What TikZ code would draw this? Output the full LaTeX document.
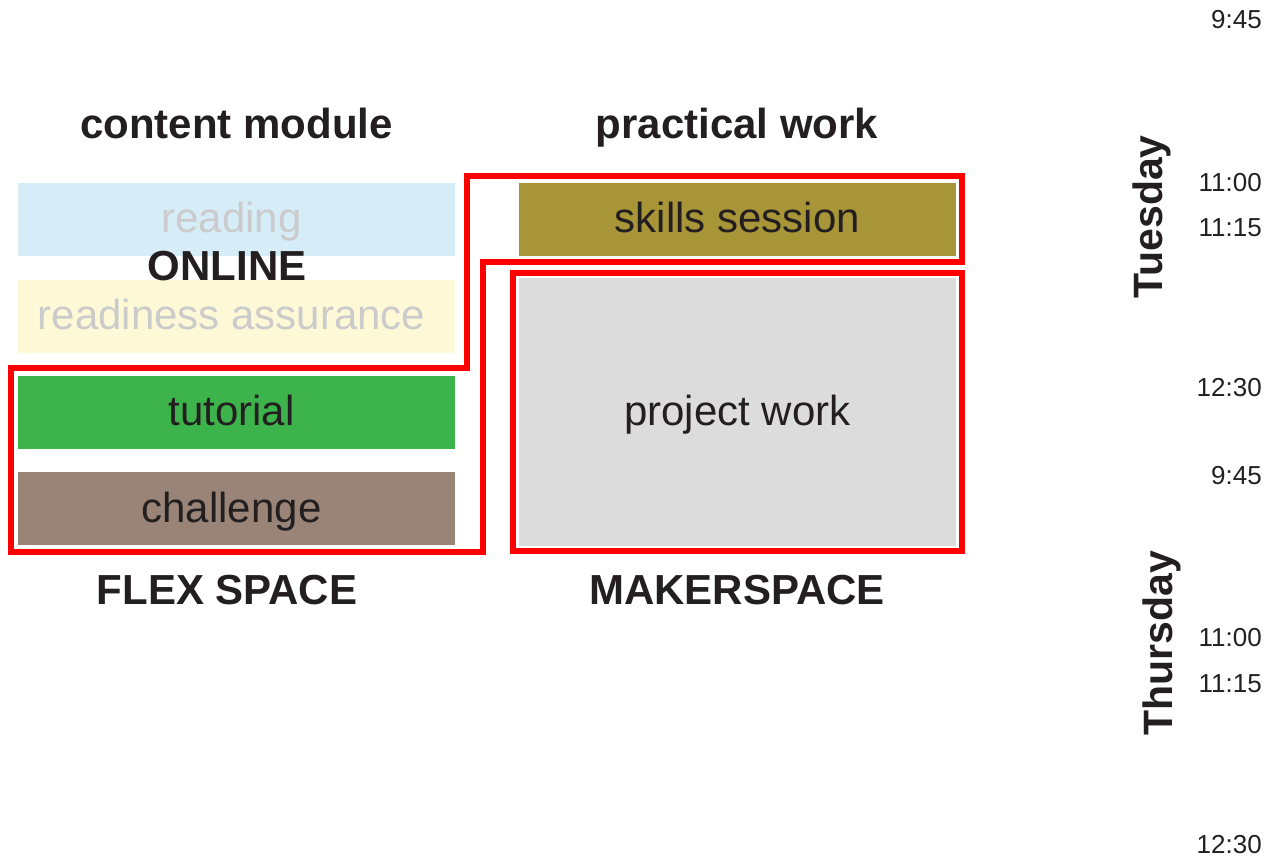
\documentclass[tikz,border=0pt]{standalone}
\usepackage{fontspec}
\setmainfont{Liberation Sans}
\definecolor{textdark}{HTML}{231F20}
\definecolor{fadedgray}{HTML}{CBCBCB}
\definecolor{readblue}{HTML}{D6EDF8}
\definecolor{readyellow}{HTML}{FDF9D6}
\definecolor{tutgreen}{HTML}{3CB44B}
\definecolor{challbrown}{HTML}{998477}
\definecolor{skillsolive}{HTML}{A79538}
\definecolor{projgray}{HTML}{DCDCDC}
\tikzset{
  slot/.style={minimum width=437pt, minimum height=73pt, inner sep=0pt,
    text height=31pt, text depth=4pt, text=textdark,
    font=\fontsize{42}{48}\selectfont},
  leftslot/.style={slot, execute at begin node=\hspace*{-10pt}},
  heading/.style={anchor=base, text=textdark, font=\fontsize{42}{48}\selectfont\bfseries},
  daylabel/.style={rotate=90, text=textdark, font=\fontsize{41}{48}\selectfont\bfseries},
  timelabel/.style={anchor=east, inner sep=0pt, text=textdark, font=\fontsize{26}{30}\selectfont},
  room/.style={draw=red, line width=6pt, line join=miter}
}
\begin{document}
\begin{tikzpicture}[x=1pt,y=-1pt]
        \useasboundingbox (0,0) rectangle (1267,858);

        \node[leftslot, fill=readblue, text=fadedgray] (reading) at (236.5,219.5) {reading};
        \node[leftslot, fill=readyellow, text=fadedgray] (readiness) at (236.5,316.5) {readiness assurance};
        \node[leftslot, fill=tutgreen] (tutorial) at (236.5,412.5) {tutorial};
        \node[leftslot, fill=challbrown] (challenge) at (236.5,508.5) {challenge};
        \node[slot, fill=skillsolive] (skills) at (737.5,219.5) {skills session};
        \node[slot, fill=projgray, minimum height=268pt] (project) at (737.5,412) {project work};

        \coordinate (F1) at (11,368);
        \coordinate (F2) at (467,368);
        \coordinate (F3) at (467,176);
        \coordinate (F4) at (962,176);
        \coordinate (F5) at (962,262);
        \coordinate (F6) at (483,262);
        \coordinate (F7) at (483,552);
        \coordinate (F8) at (11,552);
        \draw[room] (F1) -- (F2) -- (F3) -- (F4) -- (F5) -- (F6) -- (F7) -- (F8) -- cycle ;

        \coordinate (M1) at (513,273);
        \coordinate (M2) at (962,551);
        \draw[room] (M1) rectangle (M2) ;

        \node[heading] (content) at (236.5,139) {content module};
        \node[heading] (practical) at (737,139) {practical work};
        \node[heading] (online) at (227,281) {ONLINE};
        \node[heading] (flex) at (227,604) {FLEX SPACE};
        \node[heading] (maker) at (737,604) {MAKERSPACE};

        \node[daylabel] (tuesday) at (1152,217) {Tuesday};
        \node[daylabel] (thursday) at (1162,643) {Thursday};

        \node[timelabel] (tueA) at (1262,20) {9:45};
        \node[timelabel] (tueB) at (1262,183) {11:00};
        \node[timelabel] (tueC) at (1262,228) {11:15};
        \node[timelabel] (tueD) at (1262,388) {12:30};
        \node[timelabel] (thuA) at (1262,476) {9:45};
        \node[timelabel] (thuB) at (1262,638) {11:00};
        \node[timelabel] (thuC) at (1262,684) {11:15};
        \node[timelabel] (thuD) at (1262,845) {12:30};
\end{tikzpicture}
\end{document}
